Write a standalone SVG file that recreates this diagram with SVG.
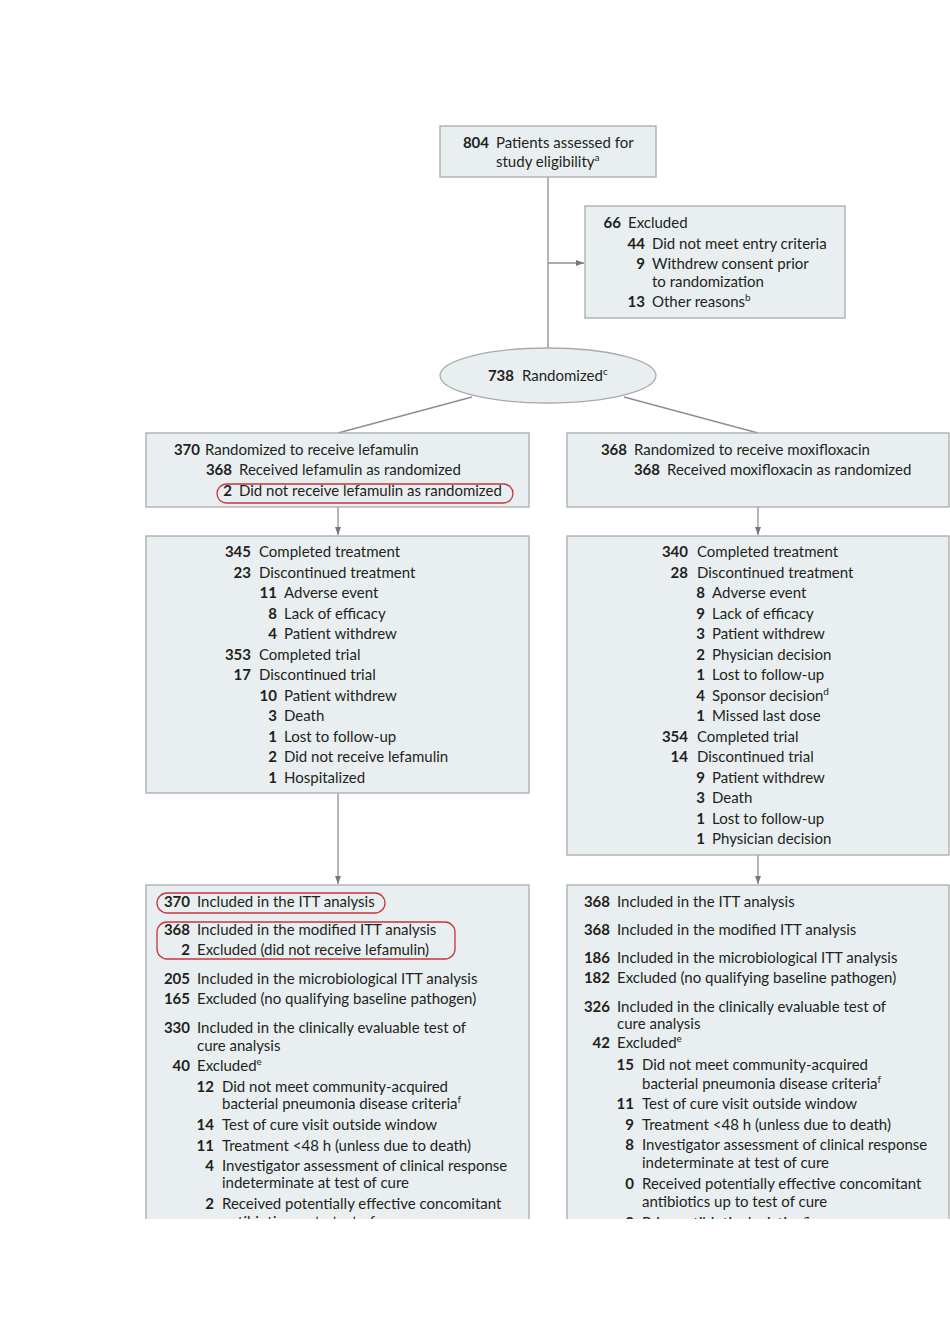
<svg xmlns="http://www.w3.org/2000/svg" width="950" height="1344" viewBox="0 0 950 1344">
<style>
.box{fill:#e9eff0;stroke:#a9aaaa;stroke-width:1.3}
.n{font-family:Lato,"Liberation Sans",sans-serif;font-weight:700;font-size:15px;fill:#231f20;text-anchor:end}
.t{font-family:Lato,"Liberation Sans",sans-serif;font-size:15px;fill:#231f20}
.sup{font-size:10px}
.hl{fill:none;stroke:#c7363d;stroke-width:1.3}
.ln{fill:none;stroke:#8e8e8e;stroke-width:1.3}
</style>
<defs>
<marker id="arr" markerUnits="userSpaceOnUse" markerWidth="8" markerHeight="8" refX="8" refY="4" orient="auto">
<path d="M0,1 L8,4 L0,7 Z" fill="#777"/>
</marker>
<clipPath id="cut"><rect x="0" y="0" width="950" height="1219"/></clipPath>
</defs>
<rect x="0" y="0" width="950" height="1344" fill="#fff"/>

<g id="connectors">
<line class="ln" x1="548" y1="177" x2="548" y2="348"/>
<line class="ln" x1="548" y1="263" x2="584" y2="263" marker-end="url(#arr)"/>
<line class="ln" x1="472" y1="397" x2="338" y2="433"/>
<line class="ln" x1="624" y1="397" x2="758" y2="433"/>
<line class="ln" x1="338" y1="507" x2="338" y2="535" marker-end="url(#arr)"/>
<line class="ln" x1="758" y1="507" x2="758" y2="535" marker-end="url(#arr)"/>
<line class="ln" x1="338" y1="793" x2="338" y2="884" marker-end="url(#arr)"/>
<line class="ln" x1="758" y1="855" x2="758" y2="884" marker-end="url(#arr)"/>
</g>

<g id="assessed">
<rect class="box" x="440" y="126" width="216" height="51"/>
<text class="n" x="489" y="148">804</text><text class="t" x="496" y="148">Patients assessed for</text>
<text class="t" x="496" y="167">study eligibility<tspan class="sup" dy="-6">a</tspan></text>
</g>

<g id="excluded">
<rect class="box" x="585" y="206" width="260" height="112"/>
<text class="n" x="621" y="228">66</text><text class="t" x="628" y="228">Excluded</text>
<text class="n" x="645" y="249">44</text><text class="t" x="652" y="249">Did not meet entry criteria</text>
<text class="n" x="645" y="269">9</text><text class="t" x="652" y="269">Withdrew consent prior</text>
<text class="t" x="652" y="287">to randomization</text>
<text class="n" x="645" y="307">13</text><text class="t" x="652" y="307">Other reasons<tspan class="sup" dy="-6">b</tspan></text>
</g>

<g id="randomized">
<ellipse class="box" cx="548" cy="375.5" rx="108" ry="27.5"/>
<text class="n" x="514" y="381">738</text><text class="t" x="522" y="381">Randomized<tspan class="sup" dy="-6">c</tspan></text>
</g>

<g id="lefamulin-arm">
<rect class="box" x="146" y="433" width="383" height="74"/>
<text class="n" x="200" y="455">370</text><text class="t" x="205" y="455">Randomized to receive lefamulin</text>
<text class="n" x="232" y="475">368</text><text class="t" x="239" y="475">Received lefamulin as randomized</text>
<text class="n" x="232" y="496">2</text><text class="t" x="239" y="496">Did not receive lefamulin as randomized</text>
<rect class="hl" x="217" y="484" width="296" height="19" rx="9.5"/>
</g>

<g id="moxifloxacin-arm">
<rect class="box" x="567" y="433" width="382" height="74"/>
<text class="n" x="627" y="455">368</text><text class="t" x="634" y="455">Randomized to receive moxifloxacin</text>
<text class="n" x="660" y="475">368</text><text class="t" x="667" y="475">Received moxifloxacin as randomized</text>
</g>

<g id="lefamulin-followup">
<rect class="box" x="146" y="536" width="383" height="257"/>
<text class="n" x="251" y="557">345</text><text class="t" x="259" y="557">Completed treatment</text>
<text class="n" x="251" y="577.5">23</text><text class="t" x="259" y="577.5">Discontinued treatment</text>
<text class="n" x="277" y="598">11</text><text class="t" x="284" y="598">Adverse event</text>
<text class="n" x="277" y="618.5">8</text><text class="t" x="284" y="618.5">Lack of efficacy</text>
<text class="n" x="277" y="639">4</text><text class="t" x="284" y="639">Patient withdrew</text>
<text class="n" x="251" y="659.5">353</text><text class="t" x="259" y="659.5">Completed trial</text>
<text class="n" x="251" y="680">17</text><text class="t" x="259" y="680">Discontinued trial</text>
<text class="n" x="277" y="700.5">10</text><text class="t" x="284" y="700.5">Patient withdrew</text>
<text class="n" x="277" y="721">3</text><text class="t" x="284" y="721">Death</text>
<text class="n" x="277" y="741.5">1</text><text class="t" x="284" y="741.5">Lost to follow-up</text>
<text class="n" x="277" y="762">2</text><text class="t" x="284" y="762">Did not receive lefamulin</text>
<text class="n" x="277" y="782.5">1</text><text class="t" x="284" y="782.5">Hospitalized</text>
</g>

<g id="moxifloxacin-followup">
<rect class="box" x="567" y="536" width="382" height="319"/>
<text class="n" x="688" y="557">340</text><text class="t" x="697" y="557">Completed treatment</text>
<text class="n" x="688" y="577.5">28</text><text class="t" x="697" y="577.5">Discontinued treatment</text>
<text class="n" x="705" y="598">8</text><text class="t" x="712" y="598">Adverse event</text>
<text class="n" x="705" y="618.5">9</text><text class="t" x="712" y="618.5">Lack of efficacy</text>
<text class="n" x="705" y="639">3</text><text class="t" x="712" y="639">Patient withdrew</text>
<text class="n" x="705" y="659.5">2</text><text class="t" x="712" y="659.5">Physician decision</text>
<text class="n" x="705" y="680">1</text><text class="t" x="712" y="680">Lost to follow-up</text>
<text class="n" x="705" y="700.5">4</text><text class="t" x="712" y="700.5">Sponsor decision<tspan class="sup" dy="-6">d</tspan></text>
<text class="n" x="705" y="721">1</text><text class="t" x="712" y="721">Missed last dose</text>
<text class="n" x="688" y="741.5">354</text><text class="t" x="697" y="741.5">Completed trial</text>
<text class="n" x="688" y="762">14</text><text class="t" x="697" y="762">Discontinued trial</text>
<text class="n" x="705" y="782.5">9</text><text class="t" x="712" y="782.5">Patient withdrew</text>
<text class="n" x="705" y="803">3</text><text class="t" x="712" y="803">Death</text>
<text class="n" x="705" y="823.5">1</text><text class="t" x="712" y="823.5">Lost to follow-up</text>
<text class="n" x="705" y="844">1</text><text class="t" x="712" y="844">Physician decision</text>
</g>

<g id="lefamulin-analysis" clip-path="url(#cut)">
<rect class="box" x="146" y="885" width="383" height="400"/>
<text class="n" x="190" y="907">370</text><text class="t" x="197" y="907">Included in the ITT analysis</text>
<rect class="hl" x="157" y="893" width="228" height="20" rx="10"/>
<text class="n" x="190" y="935">368</text><text class="t" x="197" y="935">Included in the modified ITT analysis</text>
<text class="n" x="190" y="955">2</text><text class="t" x="197" y="955">Excluded (did not receive lefamulin)</text>
<rect class="hl" x="157" y="922" width="298" height="37" rx="10"/>
<text class="n" x="190" y="984">205</text><text class="t" x="197" y="984">Included in the microbiological ITT analysis</text>
<text class="n" x="190" y="1004">165</text><text class="t" x="197" y="1004">Excluded (no qualifying baseline pathogen)</text>
<text class="n" x="190" y="1033">330</text><text class="t" x="197" y="1033">Included in the clinically evaluable test of</text>
<text class="t" x="197" y="1051">cure analysis</text>
<text class="n" x="190" y="1071">40</text><text class="t" x="197" y="1071">Excluded<tspan class="sup" dy="-6">e</tspan></text>
<text class="n" x="214" y="1092">12</text><text class="t" x="222" y="1092">Did not meet community-acquired</text>
<text class="t" x="222" y="1109">bacterial pneumonia disease criteria<tspan class="sup" dy="-6">f</tspan></text>
<text class="n" x="214" y="1130">14</text><text class="t" x="222" y="1130">Test of cure visit outside window</text>
<text class="n" x="214" y="1151">11</text><text class="t" x="222" y="1151">Treatment &lt;48 h (unless due to death)</text>
<text class="n" x="214" y="1171">4</text><text class="t" x="222" y="1171">Investigator assessment of clinical response</text>
<text class="t" x="222" y="1188">indeterminate at test of cure</text>
<text class="n" x="214" y="1209">2</text><text class="t" x="222" y="1209">Received potentially effective concomitant</text>
<text class="t" x="222" y="1227">antibiotics up to test of cure</text>
</g>

<g id="moxifloxacin-analysis" clip-path="url(#cut)">
<rect class="box" x="567" y="885" width="382" height="400"/>
<text class="n" x="610" y="907">368</text><text class="t" x="617" y="907">Included in the ITT analysis</text>
<text class="n" x="610" y="935">368</text><text class="t" x="617" y="935">Included in the modified ITT analysis</text>
<text class="n" x="610" y="963">186</text><text class="t" x="617" y="963">Included in the microbiological ITT analysis</text>
<text class="n" x="610" y="983">182</text><text class="t" x="617" y="983">Excluded (no qualifying baseline pathogen)</text>
<text class="n" x="610" y="1012">326</text><text class="t" x="617" y="1012">Included in the clinically evaluable test of</text>
<text class="t" x="617" y="1029">cure analysis</text>
<text class="n" x="610" y="1048">42</text><text class="t" x="617" y="1048">Excluded<tspan class="sup" dy="-6">e</tspan></text>
<text class="n" x="634" y="1070">15</text><text class="t" x="642" y="1070">Did not meet community-acquired</text>
<text class="t" x="642" y="1089">bacterial pneumonia disease criteria<tspan class="sup" dy="-6">f</tspan></text>
<text class="n" x="634" y="1109">11</text><text class="t" x="642" y="1109">Test of cure visit outside window</text>
<text class="n" x="634" y="1130">9</text><text class="t" x="642" y="1130">Treatment &lt;48 h (unless due to death)</text>
<text class="n" x="634" y="1150">8</text><text class="t" x="642" y="1150">Investigator assessment of clinical response</text>
<text class="t" x="642" y="1168">indeterminate at test of cure</text>
<text class="n" x="634" y="1189">0</text><text class="t" x="642" y="1189">Received potentially effective concomitant</text>
<text class="t" x="642" y="1207">antibiotics up to test of cure</text>
<text class="n" x="634" y="1228">2</text><text class="t" x="642" y="1228">Prior antibiotic deviation<tspan class="sup" dy="-6">g</tspan></text>
</g>
</svg>
